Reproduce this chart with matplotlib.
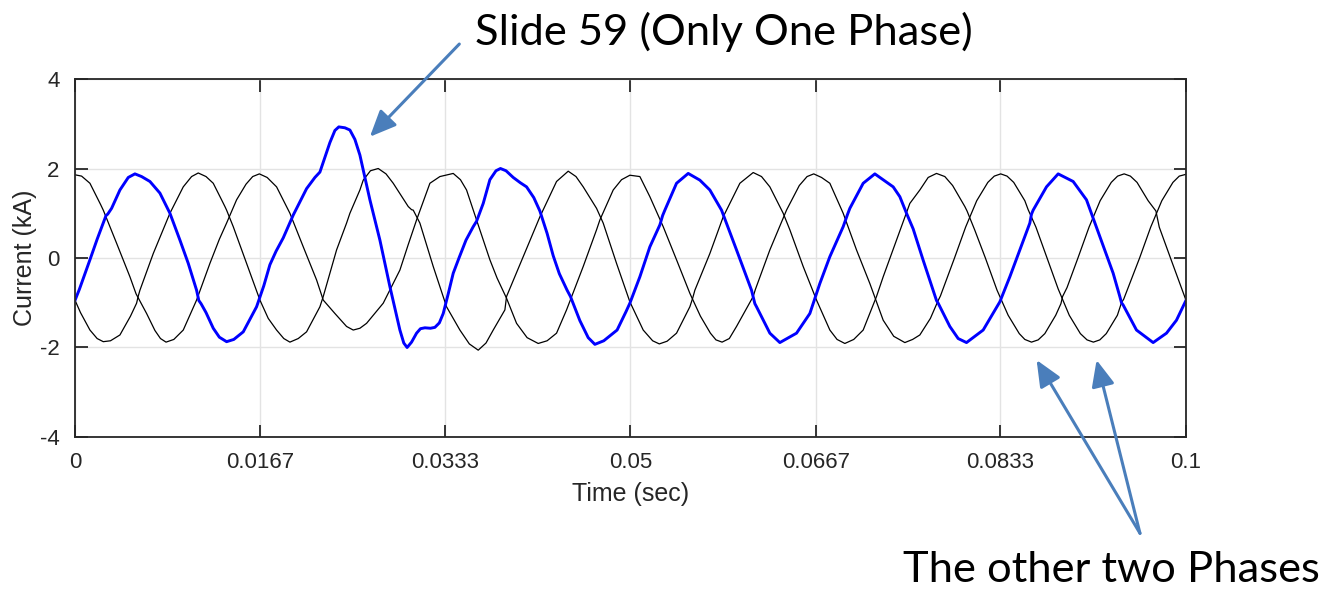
import numpy as np
import matplotlib.pyplot as plt

# Phase currents (kA) sampled from the simulation trace, time in ms
blue_t_ms = [0.0, 0.4, 1.35, 2.0, 2.55, 2.8, 2.95, 3.3, 4.05, 4.8, 5.4, 6.0, 6.75, 7.65,
             8.55, 9.45, 10.2, 10.95, 11.15, 11.35, 11.8, 12.45, 13.0, 13.65, 14.3, 15.15,
             16.35, 17.0, 17.55, 18.1, 18.75, 19.65, 20.85, 21.6, 22.05, 22.5, 22.95, 23.4,
             23.75, 24.3, 24.75, 25.2, 25.65, 26.1, 26.55, 27.45, 28.35, 29.25, 29.6, 29.9,
             30.3, 30.75, 31.1, 31.5, 32.0, 32.4, 32.8, 33.15, 33.6, 34.05, 34.6, 35.2,
             35.85, 36.15, 36.75, 37.35, 37.9, 38.3, 38.8, 39.45, 40.1, 40.65, 41.3, 41.85,
             42.5, 43.05, 43.6, 44.3, 44.6, 45.45, 46.2, 46.8, 47.6, 48.8, 49.6, 49.95,
             50.85, 51.75, 52.65, 52.9, 53.1, 54.15, 55.2, 56.25, 57.15, 58.2, 59.55, 60.9,
             61.2, 61.35, 62.55, 63.45, 64.95, 66.15, 67.05, 67.95, 69.15, 69.55, 69.75,
             70.95, 72.0, 73.65, 74.25, 74.85, 75.45, 76.35, 77.25, 77.55, 77.7, 78.75,
             79.5, 80.25, 81.75, 83.25, 84.15, 85.05, 85.95, 86.1, 86.25, 87.45, 88.5,
             89.85, 91.05, 92.25, 93.45, 94.05, 94.2, 94.35, 95.55, 97.05, 98.25, 99.15,
             100.0]
blue_i = [-0.95, -0.70, -0.04, 0.42, 0.78, 0.95, 0.98, 1.11, 1.52, 1.80, 1.88, 1.82, 1.71, 1.45,
          1.00, 0.40, -0.12, -0.72, -0.95, -1.02, -1.22, -1.57, -1.77, -1.87, -1.82, -1.65,
          -1.09, -0.62, -0.15, 0.15, 0.45, 0.96, 1.55, 1.80, 1.92, 2.25, 2.58, 2.85,
          2.93, 2.91, 2.86, 2.65, 2.30, 1.80, 1.30, 0.40, -0.64, -1.61, -1.90, -2.00,
          -1.88, -1.68, -1.58, -1.56, -1.57, -1.55, -1.45, -1.24, -0.80, -0.34, 0.02, 0.40,
          0.70, 0.82, 1.22, 1.75, 1.95, 2.00, 1.95, 1.80, 1.68, 1.59, 1.35, 1.05,
          0.55, 0.05, -0.35, -0.72, -0.86, -1.40, -1.78, -1.93, -1.85, -1.61, -1.20, -1.01,
          -0.42, 0.25, 0.74, 0.95, 1.07, 1.67, 1.89, 1.74, 1.52, 1.07, 0.18, -0.72,
          -1.02, -1.09, -1.68, -1.89, -1.68, -1.24, -0.57, 0.03, 0.70, 0.98, 1.11,
          1.67, 1.88, 1.59, 1.37, 1.00, 0.65, -0.05, -0.72, -0.95, -1.01, -1.53,
          -1.80, -1.89, -1.61, -0.98, -0.42, 0.18, 0.78, 0.98, 1.07, 1.59, 1.88,
          1.71, 1.30, 0.48, -0.34, -0.86, -1.00, -1.05, -1.61, -1.89, -1.68, -1.39,
          -0.95]

phase_b_t_ms = [0.0, 0.5, 1.35, 2.0, 2.55, 3.2, 4.05, 5.0, 5.55, 5.7, 5.85, 7.05, 8.55, 9.75,
                10.5, 11.1, 11.8, 12.45, 13.2, 13.5, 13.65, 14.25, 15.45, 16.65, 17.4, 18.15,
                18.8, 19.35, 20.1, 20.85, 22.05, 22.35, 23.55, 24.45, 24.75, 25.65, 25.95,
                26.6, 27.3, 28.0, 28.65, 30.0, 30.3, 30.45, 31.05, 32.25, 33.45, 34.65, 35.5,
                36.3, 37.0, 37.65, 38.7, 38.85, 40.35, 41.85, 43.35, 44.4, 45.1, 45.75, 46.95,
                47.55, 48.75, 49.95, 51.15, 52.0, 52.6, 53.3, 54.15, 55.35, 55.6, 55.8, 57.15,
                58.35, 59.85, 61.05, 61.8, 62.55, 63.75, 64.35, 65.55, 66.75, 67.95, 68.6,
                69.3, 70.1, 70.95, 72.15, 72.75, 73.95, 75.15, 76.05, 76.8, 77.55, 78.3, 79.0,
                80.1, 80.3, 81.0, 81.95, 83.0, 84.0, 85.0, 85.5, 86.1, 86.7, 87.3, 88.28,
                88.75, 88.9, 89.3, 90.28, 91.28, 92.28, 93.28, 93.85, 94.44, 95.0, 95.6, 96.6,
                97.3, 97.6, 98.61, 99.6, 100.0]
phase_b_i = [-0.94, -1.22, -1.61, -1.80, -1.87, -1.85, -1.72, -1.30, -1.01, -0.85, -0.72, 0.10, 1.00, 1.59,
             1.82, 1.90, 1.82, 1.67, 1.30, 1.15, 1.07, 0.70, -0.12, -0.94, -1.35, -1.61,
             -1.80, -1.88, -1.80, -1.65, -1.09, -0.86, 0.18, 0.78, 1.00, 1.52, 1.74,
             1.95, 2.00, 1.88, 1.67, 1.15, 1.08, 1.07, 0.78, -0.19, -1.09, -1.61, -1.92,
             -2.06, -1.90, -1.61, -1.16, -0.86, 0.03, 0.92, 1.71, 1.94, 1.82, 1.59, 1.11,
             0.78, -0.12, -0.98, -1.61, -1.85, -1.92, -1.86, -1.68, -1.09, -0.90, -0.72, 0.10,
             0.92, 1.67, 1.91, 1.82, 1.59, 1.00, 0.63, -0.19, -0.94, -1.61, -1.82,
             -1.91, -1.82, -1.61, -0.86, -0.42, 0.40, 1.22, 1.52, 1.80, 1.89, 1.82, 1.62,
             1.15, 1.05, 0.62, 0.0, -0.72, -1.28, -1.69, -1.82, -1.88, -1.83, -1.69, -1.28,
             -1.02, -0.86, -0.66, 0.0, 0.69, 1.28, 1.69, 1.83, 1.88, 1.83, 1.69, 1.28,
             1.05, 0.69, 0.0, -0.67, -0.94]

phase_c_t_ms = [0.0, 0.6, 1.35, 2.3, 2.55, 3.75, 4.95, 5.5, 6.45, 7.2, 7.7, 8.2, 8.9, 9.75,
                10.95, 12.15, 13.0, 13.65, 14.55, 15.4, 16.0, 16.6, 17.3, 18.15, 19.35, 20.55,
                21.75, 22.35, 23.4, 24.45, 25.05, 25.65, 26.25, 27.75, 29.25, 30.0, 30.75,
                31.95, 32.85, 34.05, 34.7, 35.25, 36.15, 37.35, 38.0, 38.85, 39.75, 40.7,
                41.7, 42.5, 43.35, 44.25, 45.75, 46.95, 47.25, 48.45, 49.2, 49.95, 50.85,
                51.75, 52.95, 54.15, 55.35, 56.3, 57.2, 57.7, 58.25, 58.9, 59.55, 61.05,
                61.25, 62.55, 64.05, 65.2, 65.9, 66.5, 67.2, 67.95, 69.15, 70.35, 71.55,
                72.75, 73.7, 74.7, 75.4, 76.05, 77.0, 77.7, 77.9, 79.17, 80.17, 81.17, 82.17,
                82.75, 83.33, 83.9, 84.5, 85.5, 85.8, 86.5, 87.5, 88.5, 89.5, 90.5, 91.1,
                91.67, 92.25, 92.83, 93.83, 94.2, 94.4, 95.83, 96.83, 97.83, 98.83, 99.4,
                100.0]
phase_c_i = [1.86, 1.83, 1.67, 1.20, 1.07, 0.33, -0.42, -0.80, -1.24, -1.62, -1.80, -1.88, -1.82, -1.61,
             -0.94, -0.12, 0.42, 0.78, 1.30, 1.65, 1.82, 1.88, 1.80, 1.59, 1.00, 0.25,
             -0.49, -0.94, -1.24, -1.53, -1.61, -1.57, -1.46, -1.01, -0.27, 0.30, 0.85,
             1.67, 1.82, 1.89, 1.75, 1.52, 0.85, -0.04, -0.45, -0.90, -1.46, -1.78,
             -1.91, -1.85, -1.68, -1.16, -0.19, 0.63, 0.85, 1.52, 1.75, 1.85, 1.82,
             1.37, 0.70, -0.04, -0.79, -1.30, -1.68, -1.83, -1.88, -1.80, -1.53, -0.86,
             -0.70, 0.18, 1.07, 1.62, 1.82, 1.88, 1.80, 1.67, 1.00, 0.18, -0.57,
             -1.39, -1.75, -1.89, -1.82, -1.72, -1.35, -0.95, -0.85, 0.0, 0.69, 1.28, 1.69,
             1.83, 1.88, 1.83, 1.69, 1.28, 1.08, 0.69, 0.0, -0.69, -1.28, -1.69, -1.83,
             -1.88, -1.83, -1.69, -1.28, -1.00, -0.92, 0.0, 0.69, 1.28, 1.69, 1.83,
             1.87]

x_ticks = [0, 0.0167, 0.0333, 0.05, 0.0667, 0.0833, 0.1]
x_tick_labels = ['0', '0.0167', '0.0333', '0.05', '0.0667', '0.0833', '0.1']
y_ticks = [-4, -2, 0, 2, 4]

# arrow targets (time in s, current in kA)
faulted_peak = (0.02655, 2.71)
other_phase_troughs = [(0.08656, -2.28), (0.09196, -2.28)]

arrow_color = '#4a7ebb'
note_font = ['Lato', 'DejaVu Sans']

plt.rcParams['font.family'] = ['Liberation Sans', 'DejaVu Sans']
plt.rcParams['axes.unicode_minus'] = False

fig = plt.figure(figsize=(13.31, 5.91), dpi=100)
ax = fig.add_axes([0.0563, 0.2606, 0.8347, 0.6057])

ax.plot(np.array(phase_c_t_ms) / 1000, phase_c_i, color='black', lw=0.9)
ax.plot(np.array(phase_b_t_ms) / 1000, phase_b_i, color='black', lw=0.9)
ax.plot(np.array(blue_t_ms) / 1000, blue_i, color='#0000ff', lw=2.1)

ax.set_xlim(0, 0.1)
ax.set_ylim(-4, 4)
ax.set_xticks(x_ticks)
ax.set_xticklabels(x_tick_labels)
ax.set_yticks(y_ticks)
ax.grid(True, color='#e3e3e3', lw=1.0)
ax.set_axisbelow(True)
ax.tick_params(direction='in', length=9, width=1.3, top=True, right=True,
               labelsize=16, colors='#262626', pad=11)
for s in ax.spines.values():
    s.set_color('#262626')
    s.set_linewidth(1.3)
ax.set_xlabel('Time (sec)', fontsize=18, color='#262626', labelpad=6)
ax.set_ylabel('Current (kA)', fontsize=18, color='#262626', labelpad=2)

fig.text(0.3569, 0.924, 'Slide 59 (Only One Phase)', fontsize=31.3,
         family=note_font, va='baseline', ha='left')
fig.text(0.6785, 0.016, 'The other two Phases', fontsize=31.3,
         family=note_font, va='baseline', ha='left')

arrow_props = dict(arrowstyle='-|>,head_length=0.8,head_width=0.35', color=arrow_color,
                   lw=2.2, mutation_scale=20, shrinkA=0, shrinkB=0)
ax.annotate('', xy=faulted_peak, xycoords='data',
            xytext=(0.3451, 0.9255), textcoords='figure fraction',
            arrowprops=arrow_props, annotation_clip=False)
for pt in other_phase_troughs:
    ax.annotate('', xy=pt, xycoords='data',
                xytext=(0.8565, 0.0976), textcoords='figure fraction',
                arrowprops=arrow_props, annotation_clip=False)

fig.savefig('out.png', dpi=100)
